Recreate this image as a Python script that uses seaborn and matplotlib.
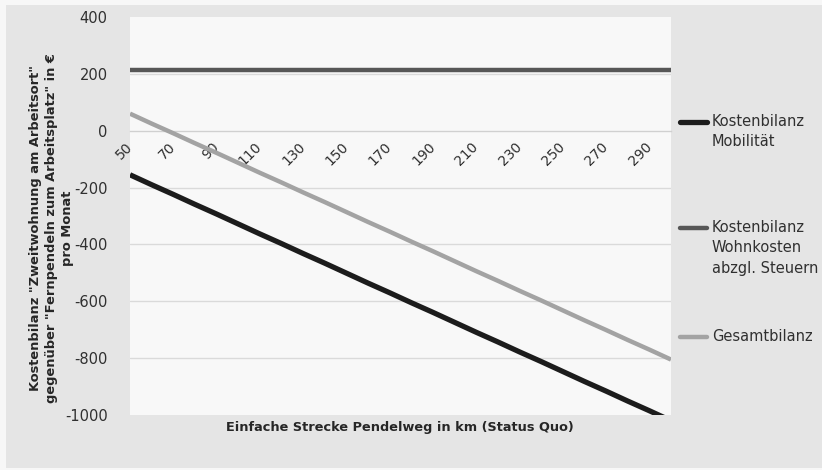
import matplotlib
matplotlib.use("Agg")
import matplotlib.pyplot as plt
from matplotlib.patches import Rectangle
from matplotlib.lines import Line2D
import pandas as pd
import seaborn as sns

# Einfache Strecke in km
distance_km = [50, 60, 70, 80, 90, 100, 110, 120, 130, 140, 150, 160, 170,
               180, 190, 200, 210, 220, 230, 240, 250, 260, 270, 280, 290, 300]

# Kostenbilanzen in € pro Monat
mobility = [-155, -190, -224, -259, -293, -328, -363, -397, -432, -466, -501,
            -536, -570, -605, -639, -674, -709, -743, -778, -812, -847, -882,
            -916, -951, -985, -1020]
housing = [215] * 26
total = [60, 25, -9, -44, -78, -113, -148, -182, -217, -251, -286, -321, -355,
         -390, -424, -459, -494, -528, -563, -597, -632, -667, -701, -736,
         -770, -805]

series_names = ["Kostenbilanz\nMobilität",
                "Kostenbilanz\nWohnkosten\nabzgl. Steuern",
                "Gesamtbilanz"]
series_colors = ["#1c1c1c", "#575757", "#a3a3a3"]
series_widths = [3.8, 3.2, 3.2]

y_ticks = [400, 200, 0, -200, -400, -600, -800, -1000]
x_label_ticks = [50, 70, 90, 110, 130, 150, 170, 190, 210, 230, 250, 270, 290]

df = pd.DataFrame({
    "km": distance_km * 3,
    "wert": mobility + housing + total,
    "reihe": [series_names[0]] * 26 + [series_names[1]] * 26 + [series_names[2]] * 26,
})

sns.set_theme(style="white")
plt.rcParams["font.family"] = ["DejaVu Sans"]
plt.rcParams["axes.unicode_minus"] = False

W, H = 822, 470
fig = plt.figure(figsize=(W / 100, H / 100), dpi=100, facecolor="#f7f7f7")
fig.patches.append(Rectangle((6 / W, 2 / H), 1 - 6 / W, 463 / H,
                             transform=fig.transFigure, facecolor="#e5e5e5",
                             edgecolor="none", zorder=-5))

ax = fig.add_axes([130 / W, 1 - 415 / H, 541 / W, 398 / H])
ax.set_zorder(2)
ax.set_facecolor("#f8f8f8")

for name, color, lw in zip(series_names, series_colors, series_widths):
    sns.lineplot(data=df[df["reihe"] == name], x="km", y="wert", color=color,
                 linewidth=lw, ax=ax, legend=False, solid_capstyle="butt",
                 zorder=3)

ax.set_xlim(50, 300)
ax.set_ylim(-1000, 400)
ax.set_xlabel("")
ax.set_ylabel("")

# y axis: labels only, light horizontal grid
ax.set_yticks(y_ticks)
ax.set_yticklabels([str(v) for v in y_ticks])
ax.tick_params(axis="y", length=0, pad=16, labelsize=10.5, labelcolor="#303030")
ax.yaxis.grid(True, color="#dadada", linewidth=1.0, zorder=1)
for v, gl in zip(y_ticks, ax.get_ygridlines()):
    if v in (400, 0, -1000):
        gl.set_visible(False)

# x axis sits on the zero line
for side in ["top", "right", "left"]:
    ax.spines[side].set_visible(False)
ax.spines["bottom"].set_position(("data", 0))
ax.spines["bottom"].set_color("#d0d0d0")
ax.spines["bottom"].set_linewidth(1.0)
ax.set_xticks(distance_km)
ax.set_xticklabels([str(k) if k in x_label_ticks else "" for k in distance_km],
                   rotation=45, ha="right", va="center", rotation_mode="anchor")
ax.tick_params(axis="x", direction="in", length=4, width=0.8, color="#c8c8c8",
               pad=10, labelsize=10, labelcolor="#303030")

fig.text(400 / W, 1 - 427 / H, "Einfache Strecke Pendelweg in km (Status Quo)",
         ha="center", va="center", fontsize=9.3, fontweight="bold", color="#262626")
fig.text(51 / W, 1 - 228 / H,
         'Kostenbilanz "Zweitwohnung am Arbeitsort"\n'
         'gegenüber "Fernpendeln zum Arbeitsplatz" in €\npro Monat',
         ha="center", va="center", rotation=90, multialignment="center",
         fontsize=9.4, fontweight="bold", color="#262626", linespacing=1.3)

# legend on the right, handles aligned with the first label line
legend_y = [122, 228, 337]
for name, color, lw, y in zip(series_names, series_colors, series_widths, legend_y):
    fy = 1 - y / H
    fig.add_artist(Line2D([680 / W, 707 / W], [fy, fy], transform=fig.transFigure,
                          color=color, linewidth=lw, solid_capstyle="round"))
    fig.text(712 / W, fy + 8 / H, name, ha="left", va="top", fontsize=10.5,
             color="#303030", linespacing=1.45)

fig.savefig("out.png", dpi=100, facecolor=fig.get_facecolor())
